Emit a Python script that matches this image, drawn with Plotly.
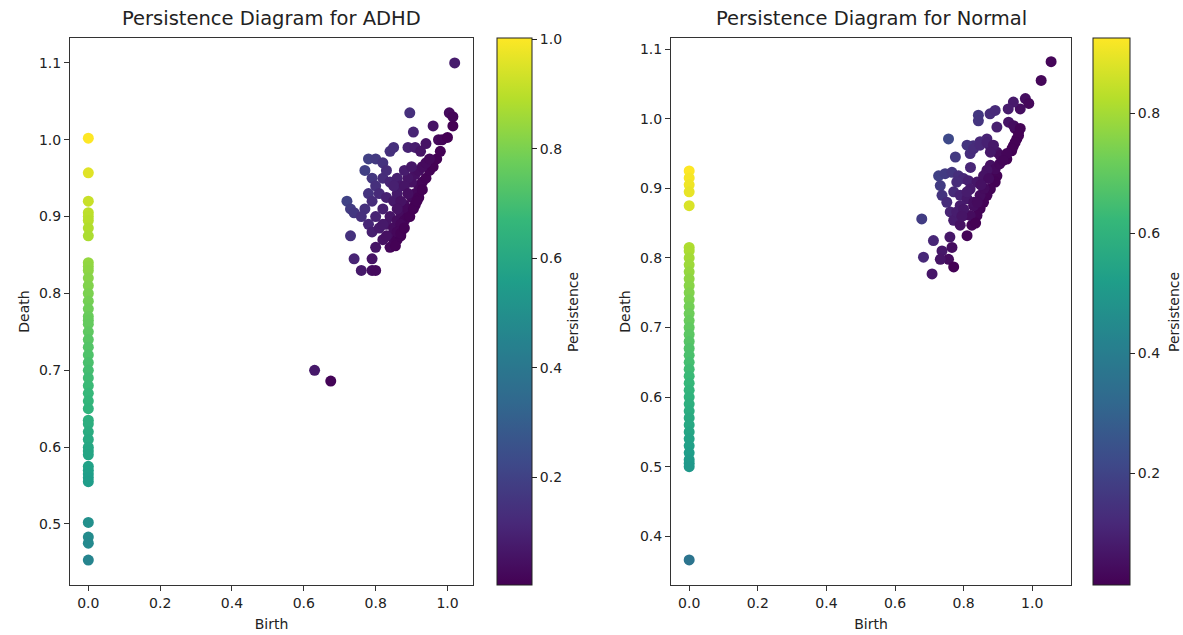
import plotly.graph_objects as go

# ---------------- data ----------------
adhd_zero_death = [1.002, 0.957, 0.92, 0.905, 0.90, 0.895, 0.885, 0.875, 0.84, 0.835, 0.83,
                   0.82, 0.81, 0.80, 0.79, 0.78, 0.77, 0.765, 0.76, 0.75, 0.74, 0.73, 0.72,
                   0.71, 0.70, 0.69, 0.68, 0.67, 0.66, 0.65, 0.635, 0.63, 0.62, 0.61, 0.60,
                   0.595, 0.59, 0.575, 0.57, 0.565, 0.56, 0.555, 0.502, 0.483, 0.475, 0.453]

adhd_birth = [0.63, 0.675, 0.74, 0.76, 0.79, 0.80, 0.79, 0.73,
              0.72, 0.73, 0.74, 0.77, 0.78, 0.80, 0.82, 0.79, 0.80, 0.78, 0.77, 0.76,
              0.79, 0.81, 0.82, 0.83, 0.84, 0.83, 0.82, 0.80, 0.78, 0.79, 0.81, 0.83,
              0.84, 0.85, 0.86, 0.86, 0.87, 0.85, 0.80, 0.82, 0.84, 0.85, 0.86, 0.87,
              0.85, 0.86, 0.87, 0.88, 0.88, 0.87, 0.89, 0.90, 0.89, 0.90, 0.91, 0.92,
              0.93, 0.94, 0.95, 0.96, 0.97, 0.98, 0.90, 0.91, 0.92, 0.89, 0.88, 0.90,
              0.93, 0.94, 0.95, 0.84, 0.85, 0.89, 0.905, 0.895, 0.91, 0.925, 0.94, 0.96,
              0.975, 0.985, 1.0, 1.005, 1.015, 1.015, 1.02, 0.86, 0.84, 0.83, 0.82, 0.87,
              0.86, 0.88, 0.91, 0.92, 0.93, 0.89, 0.87, 0.855, 0.88, 0.895, 0.905, 0.915]
adhd_death = [0.70, 0.686, 0.845, 0.83, 0.83, 0.83, 0.845, 0.875,
              0.92, 0.91, 0.905, 0.96, 0.975, 0.975, 0.97, 0.95, 0.94, 0.93, 0.91, 0.90,
              0.92, 0.93, 0.95, 0.96, 0.945, 0.925, 0.91, 0.90, 0.89, 0.88, 0.885, 0.89,
              0.90, 0.92, 0.93, 0.95, 0.94, 0.94, 0.86, 0.87, 0.875, 0.865, 0.87, 0.875,
              0.885, 0.895, 0.905, 0.915, 0.895, 0.89, 0.90, 0.91, 0.91, 0.925, 0.93, 0.94,
              0.945, 0.95, 0.96, 0.965, 0.975, 0.985, 0.945, 0.955, 0.96, 0.95, 0.96, 0.965,
              0.965, 0.97, 0.975, 0.985, 0.99, 0.99, 1.01, 1.035, 0.99, 0.985, 0.995, 1.018,
              1.0, 1.0, 1.003, 1.035, 1.03, 1.018, 1.10, 0.88, 0.86, 0.875, 0.89, 0.92,
              0.91, 0.94, 0.915, 0.925, 0.935, 0.93, 0.878, 0.862, 0.885, 0.9, 0.91, 0.92]

normal_zero_death = [0.925, 0.915, 0.905, 0.895, 0.875, 0.815, 0.81, 0.80, 0.79, 0.78,
                     0.77, 0.76, 0.75, 0.74, 0.73, 0.72, 0.71, 0.70, 0.69, 0.68, 0.67,
                     0.66, 0.65, 0.64, 0.63, 0.62, 0.61, 0.60, 0.59, 0.58, 0.57, 0.56,
                     0.55, 0.54, 0.53, 0.52, 0.51, 0.505, 0.50, 0.366]

normal_birth = [1.055, 1.026, 0.98, 0.99, 0.965, 0.945, 0.93, 0.877, 0.892, 0.843, 0.843,
                0.897, 0.95, 0.96, 0.955, 0.945, 0.94, 0.756, 0.868, 0.848, 0.828, 0.819,
                0.877, 0.897, 0.907, 0.926, 0.776, 0.727, 0.746, 0.766, 0.785, 0.80, 0.814,
                0.839, 0.882, 0.897, 0.892, 0.878, 0.868, 0.858, 0.848, 0.839, 0.824, 0.81,
                0.732, 0.737, 0.751, 0.761, 0.771, 0.79, 0.771, 0.79, 0.81, 0.79, 0.78,
                0.819, 0.829, 0.848, 0.80, 0.819, 0.78, 0.678, 0.712, 0.683, 0.737, 0.766,
                0.756, 0.732, 0.771, 0.708, 0.81, 0.829, 0.848, 0.868, 0.887, 0.878, 0.931,
                0.946, 0.965, 0.96, 0.95, 0.941, 0.926, 0.878, 0.892, 0.868, 0.858, 0.873,
                0.83, 0.80, 0.76, 0.81, 0.84, 0.86, 0.85, 0.905, 0.915, 0.82, 0.795, 0.835]
normal_death = [1.082, 1.055, 1.029, 1.022, 1.014, 1.024, 1.014, 1.007, 1.012, 1.005, 0.997,
                0.988, 0.986, 0.981, 0.971, 0.961, 0.954, 0.971, 0.971, 0.967, 0.961, 0.95,
                0.961, 0.952, 0.947, 0.942, 0.945, 0.918, 0.921, 0.923, 0.918, 0.914, 0.911,
                0.909, 0.923, 0.918, 0.909, 0.899, 0.89, 0.88, 0.871, 0.861, 0.847, 0.832,
                0.904, 0.89, 0.88, 0.866, 0.854, 0.847, 0.895, 0.89, 0.885, 0.875, 0.909,
                0.899, 0.875, 0.89, 0.861, 0.861, 0.866, 0.856, 0.825, 0.801, 0.81, 0.815,
                0.798, 0.798, 0.787, 0.777, 0.962, 0.957, 0.962, 0.966, 0.962, 0.952, 0.995,
                0.99, 0.986, 0.976, 0.966, 0.957, 0.95, 0.933, 0.928, 0.926, 0.918, 0.914,
                0.88, 0.87, 0.83, 0.895, 0.88, 0.9, 0.905, 0.935, 0.94, 0.93, 0.86, 0.85]

x_ticks = [0.0, 0.2, 0.4, 0.6, 0.8, 1.0]
adhd_y_ticks = [0.5, 0.6, 0.7, 0.8, 0.9, 1.0, 1.1]
normal_y_ticks = [0.4, 0.5, 0.6, 0.7, 0.8, 0.9, 1.0, 1.1]
adhd_cb_ticks = [0.2, 0.4, 0.6, 0.8, 1.0]
normal_cb_ticks = [0.2, 0.4, 0.6, 0.8]

# ---------------- build ----------------
adhd_x = [0.0] * len(adhd_zero_death) + adhd_birth
adhd_y = adhd_zero_death + adhd_death
adhd_p = [d - b for b, d in zip(adhd_x, adhd_y)]
norm_x = [0.0] * len(normal_zero_death) + normal_birth
norm_y = normal_zero_death + normal_death
norm_p = [d - b for b, d in zip(norm_x, norm_y)]

FONT = "DejaVu Sans"
OFF = 0  # page body margin removed via post_script
W, H = 1183, 635
ML, MR = 10, 2
MT = 38 - OFF
MB = H - (585 - OFF)
PW = W - ML - MR
PH = H - MT - MB
TXT = "#222"


def px(x):
    return (x - OFF - ML) / PW


def py(y):
    return 1 - (y - OFF - MT) / PH


def cbar(xpos, ticks, thick):
    return dict(
        x=px(xpos), xanchor="left", xpad=0, ypad=0, y=0.5, yanchor="middle",
        len=1, lenmode="fraction", thickness=thick, thicknessmode="pixels",
        outlinewidth=1, outlinecolor="#222",
        tickvals=ticks, ticktext=[f"{t:.1f}" for t in ticks],
        ticks="outside", ticklen=5, tickcolor="#222",
        tickfont=dict(family=FONT, size=14, color=TXT),
    )


fig = go.Figure()
fig.add_trace(go.Scatter(
    x=adhd_x, y=adhd_y, mode="markers", xaxis="x", yaxis="y", showlegend=False,
    marker=dict(size=11, color=adhd_p, colorscale="Viridis", line=dict(width=0),
                colorbar=cbar(497, adhd_cb_ticks, 35)),
))
fig.add_trace(go.Scatter(
    x=norm_x, y=norm_y, mode="markers", xaxis="x2", yaxis="y2", showlegend=False,
    marker=dict(size=11, color=norm_p, colorscale="Viridis", line=dict(width=0),
                colorbar=cbar(1093, normal_cb_ticks, 37)),
))

axis_common = dict(
    showgrid=False, zeroline=False, showline=True, linecolor="#333", linewidth=1,
    mirror=True, ticks="outside", ticklen=5, tickcolor="#333",
    tickfont=dict(family=FONT, size=14, color=TXT),
    automargin=False,
)


def label(text, x, y, angle=0, size=14):
    return dict(text=text, x=x, y=y, xref="paper", yref="paper",
                xanchor="center", yanchor="middle", textangle=angle,
                showarrow=False, font=dict(family=FONT, size=size, color=TXT))


fig.update_layout(
    width=W, height=H,
    margin=dict(l=ML, r=MR, t=MT, b=MB),
    paper_bgcolor="white", plot_bgcolor="white",
    font=dict(family=FONT, color=TXT),
    xaxis=dict(domain=[px(70), px(473)], range=[-0.051, 1.071], anchor="y",
               tickvals=x_ticks, tickformat=".1f",
               title=dict(text="Birth", standoff=9, font=dict(family=FONT, size=14)),
               **axis_common),
    yaxis=dict(domain=[0, 1], range=[0.4206, 1.1324], anchor="x",
               tickvals=adhd_y_ticks, tickformat=".1f",
               title=dict(text="Death", standoff=6, font=dict(family=FONT, size=14)),
               **axis_common),
    xaxis2=dict(domain=[px(671), px(1071)], range=[-0.053, 1.113], anchor="y2",
                tickvals=x_ticks, tickformat=".1f",
                title=dict(text="Birth", standoff=9, font=dict(family=FONT, size=14)),
                **axis_common),
    yaxis2=dict(domain=[0, 1], range=[0.330, 1.116], anchor="x2",
                tickvals=normal_y_ticks, tickformat=".1f",
                title=dict(text="Death", standoff=6, font=dict(family=FONT, size=14)),
                **axis_common),
    annotations=[
        label("Persistence Diagram for ADHD", px(271), py(18), size=19.5),
        label("Persistence Diagram for Normal", px(871), py(18), size=19.5),
        label("Persistence", px(573), py(312), angle=-90),
        label("Persistence", px(1174), py(312), angle=-90),
    ],
)

fig.write_html(
    "out.html",
    config={"displayModeBar": False},
    post_script="document.body.style.margin='0';document.body.style.overflow='hidden';",
)
